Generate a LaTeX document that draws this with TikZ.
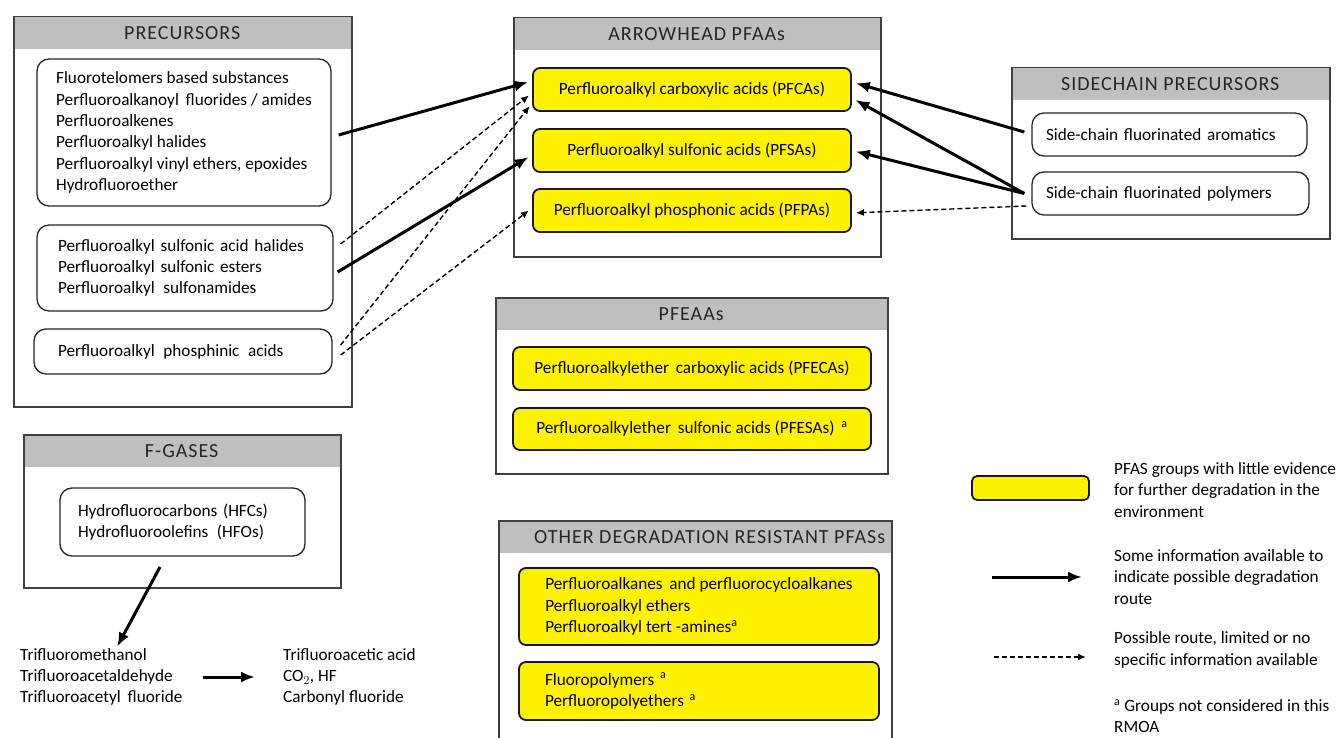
\documentclass[tikz,border=0pt]{standalone}
\usepackage{fontspec}
\setmainfont{Carlito}
\usetikzlibrary{arrows.meta}

\tikzset{
  group/.style={draw=black!75, line width=1.5pt, anchor=north west, inner sep=0pt},
  grouphead/.style={fill=black!25, anchor=north west, inner sep=0pt, minimum height=33pt},
  grouptitle/.style={font=\fontsize{20}{24}\selectfont\addfontfeatures{LetterSpace=5}, text=black!85},
  item/.style={draw=black!85, line width=1.3pt, rounded corners=12pt, fill=white, align=left, inner sep=0pt},
  pfas/.style={item, draw=black!90, fill=yellow, rounded corners=7pt, line width=1.8pt},
  plain/.style={align=left, inner sep=0pt},
  route/.style={-{Latex[length=14pt,width=11pt]}, line width=3pt, shorten >=4pt},
  maybe/.style={-{Latex[length=8pt,width=7pt]}, line width=1.4pt, dash pattern=on 5pt off 3pt, shorten >=4pt},
}

\begin{document}
\begin{tikzpicture}[x=1pt, y=-1pt, every node/.style={font=\fontsize{17.2}{21.3}\selectfont}]
  \useasboundingbox (0,0) rectangle (1341,738);
  % group frames with grey header
  \foreach \n/\x/\y/\w/\h/\t/\dx in {prec/13/16/338/390/PRECURSORS/0,
      arrow/513/17/367/239/ARROWHEAD PFAAs/0, side/1011/67/318/171/SIDECHAIN PRECURSORS/0,
      pfeaa/495/297/392/176/PFEAAs/0, fgas/23/434/317/153/F-GASES/0,
      other/498/520/393/225/OTHER DEGRADATION RESISTANT PFASs/15}
    {\node[grouphead, minimum width=\w] (\n h) at (\x,\y) {};
     \node[group, minimum width=\w, minimum height=\h] (\n) at (\x,\y) {};
     \node[grouptitle, xshift=\dx] at (\n h) {\t};}

  % precursors
  \node[item, minimum width=294, minimum height=147] (telo) at (184,132.5)
    {Fluorotelomers based substances\\Perfluoroalkanoyl\, fluorides / amides\\Perfluoroalkenes\\
     Perfluoroalkyl halides\\Perfluoroalkyl vinyl ethers, epoxides\\Hydrofluoroether};
  \node[item, minimum width=296, minimum height=86, text width=254] (sulf) at (185,268)
    {Perfluoroalkyl sulfonic acid halides\\Perfluoroalkyl sulfonic esters\\Perfluoroalkyl\, sulfonamides};
  \node[item, minimum width=298, minimum height=45, text width=250] (phos) at (183,351.5)
    {Perfluoroalkyl\, phosphinic\, acids};

  % arrowhead PFAAs
  \foreach \n/\y/\t in {pfca/89.5/Perfluoroalkyl carboxylic acids (PFCAs),
      pfsa/150.5/Perfluoroalkyl sulfonic acids (PFSAs), pfpa/210.5/Perfluoroalkyl phosphonic acids (PFPAs)}
    {\node[pfas, minimum width=318, minimum height=43] (\n) at (692,\y) {\t};}

  % sidechain precursors
  \node[item, minimum width=275, minimum height=43, text width=247] (aro) at (1169.5,134.5)
    {Side-chain fluorinated aromatics};
  \node[item, minimum width=277, minimum height=43, text width=249] (poly) at (1170.5,193.5)
    {Side-chain fluorinated polymers};

  % PFEAAs
  \node[pfas, minimum width=358, minimum height=43] (pfeca) at (692,368.5)
    {Perfluoroalkylether\, carboxylic acids (PFECAs)};
  \node[pfas, minimum width=358, minimum height=42] (pfesa) at (692,429)
    {Perfluoroalkylether\, sulfonic acids (PFESAs)\, \textsuperscript{a}};

  % other degradation resistant
  \node[pfas, minimum width=360, minimum height=77] (alk) at (699,606.5)
    {Perfluoroalkanes\, and perfluorocycloalkanes\\Perfluoroalkyl ethers\\Perfluoroalkyl tert -amines\textsuperscript{a}};
  \node[pfas, minimum width=360, minimum height=58, text width=308] (fpol) at (699,691)
    {Fluoropolymers \textsuperscript{a}\\Perfluoropolyethers \textsuperscript{a}};

  % f-gases
  \node[item, minimum width=245, minimum height=68, text width=209] (hfc) at (182.5,522)
    {Hydrofluorocarbons (HFCs)\\Hydrofluoroolefins\, (HFOs)};
  \node[plain, anchor=west] (meth) at (20,677)
    {Trifluoromethanol\\Trifluoroacetaldehyde\\Trifluoroacetyl\, fluoride};
  \node[plain, anchor=west] (tfa) at (283,677)
    {Trifluoroacetic acid\\CO$_2$, HF\\Carbonyl fluoride};
  \coordinate (fgo) at (160,567);
  \draw[route] (fgo) -- ([xshift=14pt, yshift=-2pt]meth.north);
  \draw[route] ([xshift=20pt]meth.east) -- ([xshift=-24pt]tfa.west);

  % routes to the PFAAs
  \draw[route] ([xshift=7pt, yshift=-2.5pt]telo.east) -- ([yshift=8.5pt]pfca.west);
  \draw[route] ([xshift=4pt, yshift=-4pt]sulf.east) -- ([yshift=-4.5pt]pfsa.west);
  \draw[maybe] ([xshift=7pt, yshift=24pt]sulf.east) -- ([yshift=-3.5pt]pfca.west);
  \draw[maybe] ([xshift=8pt, yshift=6.5pt]phos.east) -- ([yshift=-13.5pt]pfca.west);
  \draw[maybe] ([xshift=8pt, yshift=-3.5pt]phos.east) -- ([yshift=2.5pt]pfpa.west);
  \draw[route] ([xshift=-7pt, yshift=2.5pt]aro.west) -- ([yshift=7.5pt]pfca.east);
  \draw[route] ([xshift=-7pt]poly.west) -- ([yshift=-8.5pt]pfca.east);
  \draw[route] ([xshift=-7pt]poly.west) -- (pfsa.east);
  \draw[maybe] ([xshift=-5pt, yshift=-12.5pt]poly.west) -- ([yshift=-2.5pt]pfpa.east);

  % legend
  \node[pfas, minimum width=117, minimum height=24, rounded corners=5pt] (legbox) at (1030.5,488) {};
  \node[plain, anchor=west] (legt1) at (1114,490)
    {PFAS groups with little evidence\\for further degradation in the\\environment};
  \node[plain, anchor=west] (legt2) at (1114,577)
    {Some information available to\\indicate possible degradation\\route};
  \node[plain, anchor=west] (legt3) at (1114,650)
    {Possible route, limited or no\\specific information available};
  \node[plain, anchor=west] (legt4) at (1114,716)
    {\textsuperscript{a} Groups not considered in this\\RMOA};
  \draw[route] ([xshift=-122pt]legt2.west) -- ([xshift=-28pt]legt2.west);
  \draw[maybe] ([xshift=-120pt, yshift=-7pt]legt3.west) -- ([xshift=-24pt, yshift=-7pt]legt3.west);
\end{tikzpicture}
\end{document}
